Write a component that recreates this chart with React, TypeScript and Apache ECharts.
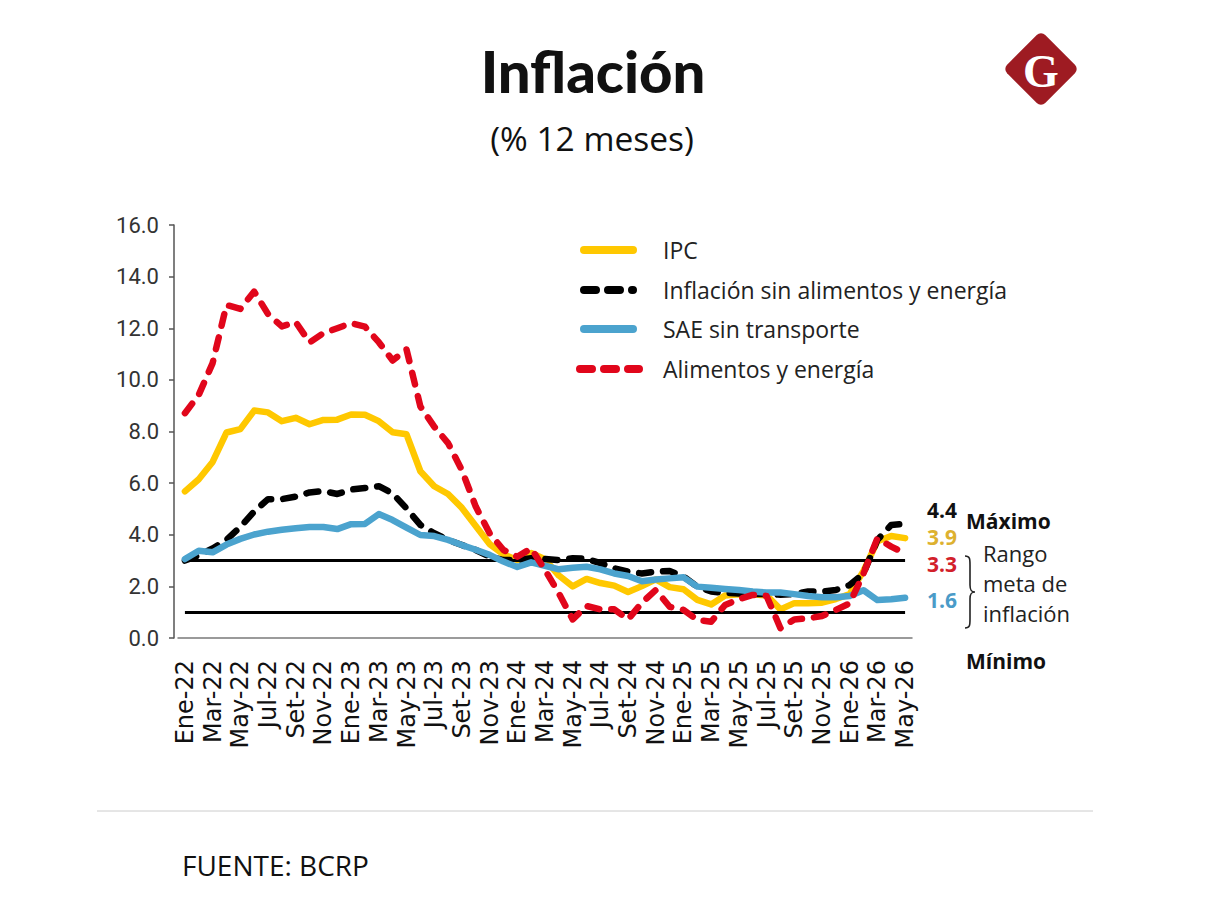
import React, { useEffect, useRef } from 'react';
import * as echarts from 'echarts';

const categories = [
  'Ene-22','Feb-22','Mar-22','Abr-22','May-22','Jun-22','Jul-22','Ago-22','Set-22','Oct-22','Nov-22','Dic-22',
  'Ene-23','Feb-23','Mar-23','Abr-23','May-23','Jun-23','Jul-23','Ago-23','Set-23','Oct-23','Nov-23','Dic-23',
  'Ene-24','Feb-24','Mar-24','Abr-24','May-24','Jun-24','Jul-24','Ago-24','Set-24','Oct-24','Nov-24','Dic-24',
  'Ene-25','Feb-25','Mar-25','Abr-25','May-25','Jun-25','Jul-25','Ago-25','Set-25','Oct-25','Nov-25','Dic-25',
  'Ene-26','Feb-26','Mar-26','Abr-26','May-26',
];

const ipc = [
  5.68, 6.15, 6.82, 7.96, 8.09, 8.81, 8.74, 8.40, 8.53, 8.28, 8.45, 8.46,
  8.66, 8.65, 8.40, 7.97, 7.89, 6.46, 5.88, 5.58, 5.04, 4.34, 3.64, 3.24,
  3.02, 3.29, 3.05, 2.42, 2.00, 2.29, 2.13, 2.03, 1.78, 2.01, 2.27, 1.97,
  1.89, 1.48, 1.30, 1.65, 1.69, 1.69, 1.65, 1.11, 1.35, 1.35, 1.37, 1.51,
  1.70, 2.60, 3.75, 3.95, 3.87,
];

const sinAlimentosEnergia = [
  3.00, 3.20, 3.47, 3.80, 4.30, 4.90, 5.38, 5.38, 5.48, 5.64, 5.69, 5.58,
  5.75, 5.81, 5.88, 5.60, 5.02, 4.38, 4.06, 3.80, 3.60, 3.41, 3.15, 3.02,
  3.02, 3.09, 3.06, 3.02, 3.09, 3.07, 2.90, 2.70, 2.57, 2.50, 2.57, 2.60,
  2.38, 1.99, 1.80, 1.75, 1.72, 1.70, 1.70, 1.68, 1.70, 1.80, 1.80, 1.86,
  2.05, 2.50, 3.80, 4.38, 4.42,
];

const saeSinTransporte = [
  3.06, 3.38, 3.32, 3.62, 3.84, 4.01, 4.12, 4.19, 4.25, 4.30, 4.30, 4.22,
  4.41, 4.42, 4.80, 4.57, 4.28, 3.99, 3.95, 3.80, 3.60, 3.42, 3.22, 2.96,
  2.75, 2.93, 2.80, 2.66, 2.72, 2.76, 2.66, 2.50, 2.40, 2.20, 2.27, 2.31,
  2.35, 1.99, 1.95, 1.90, 1.86, 1.80, 1.76, 1.76, 1.70, 1.63, 1.58, 1.58,
  1.63, 1.85, 1.47, 1.50, 1.56,
];

const alimentosEnergia = [
  8.71, 9.42, 10.65, 12.90, 12.75, 13.42, 12.55, 12.07, 12.24, 11.45, 11.81, 12.00,
  12.20, 12.06, 11.46, 10.75, 11.18, 8.97, 8.19, 7.55, 6.50, 5.09, 4.06, 3.41,
  3.15, 3.47, 2.64, 1.73, 0.72, 1.24, 1.11, 1.11, 0.72, 1.37, 1.86, 1.21,
  1.09, 0.70, 0.63, 1.28, 1.50, 1.67, 1.63, 0.38, 0.72, 0.76, 0.85, 1.09,
  1.34, 2.50, 3.86, 3.54, 3.28,
];

const targetRange = [1, 3];

const seriesNames = [
  'IPC',
  'Inflación sin alimentos y energía',
  'SAE sin transporte',
  'Alimentos y energía',
];
const seriesColors = ['#FFC800', '#000000', '#4BA3CE', '#E1061B'];
const seriesDashed = [false, true, false, true];
const seriesData = [ipc, sinAlimentosEnergia, saeSinTransporte, alimentosEnergia];

const endLabels = [
  { text: '4.4', color: '#111111', y: 510, x: 957 },
  { text: '3.9', color: '#DDB12F', y: 537, x: 957 },
  { text: '3.3', color: '#D2202A', y: 564, x: 957 },
  { text: '1.6', color: '#4A9BC8', y: 600, x: 957 },
];

echarts.graphic.registerShape(
  'brace',
  echarts.graphic.extendPath(
    'M0,0 C5,0 5,3 5,9 L5,29 C5,34 6,36 10,36 C6,36 5,38 5,43 L5,63 C5,69 5,72 0,72',
    {}
  )
);

const FONT = '"Open Sans", Roboto, sans-serif';

export default function App() {
  const ref = useRef<HTMLDivElement>(null);

  useEffect(() => {
    if (!ref.current) return;
    const chart = echarts.init(ref.current, null, { renderer: 'svg' });

    const series: any[] = seriesNames.map((name, i) => ({
      name,
      type: 'line',
      data: seriesData[i],
      showSymbol: false,
      symbol: 'none',
      silent: true,
      z: 3 + i,
      lineStyle: {
        color: seriesColors[i],
        width: 6.5,
        type: seriesDashed[i] ? [12, 12] : 'solid',
        cap: 'round',
        join: 'round',
      },
    }));

    series.unshift({
      name: 'rango',
      type: 'line',
      data: [],
      silent: true,
      z: 2,
      markLine: {
        silent: true,
        symbol: ['none', 'none'],
        label: { show: false },
        lineStyle: { color: '#000', width: 3, type: 'solid' },
        data: targetRange.map((v) => [
          { coord: [categories[0], v] },
          { coord: [categories[categories.length - 1], v] },
        ]),
      },
    });

    const legendRows = [250, 290, 329, 369];
    const legendGraphics: any[] = [];
    seriesNames.forEach((name, i) => {
      const x1 = i === 3 ? 580 : 584;
      const x2 = i === 3 ? 639 : 633;
      legendGraphics.push({
        type: 'line',
        shape: { x1, y1: legendRows[i], x2, y2: legendRows[i] },
        style: {
          stroke: seriesColors[i],
          lineWidth: 8,
          lineCap: 'round',
          lineDash: seriesDashed[i] ? [12, 12] : null,
        },
      });
      legendGraphics.push({
        type: 'text',
        x: 663,
        y: legendRows[i],
        style: {
          text: name,
          fill: '#222',
          fontSize: 23,
          fontFamily: FONT,
          textAlign: 'left',
          textVerticalAlign: 'middle',
        },
      });
    });

    const rightGraphics: any[] = endLabels.map((l) => ({
      type: 'text',
      x: l.x,
      y: l.y,
      style: {
        text: l.text,
        fill: l.color,
        fontSize: 21,
        lineHeight: 21,
        fontWeight: 'bold',
        fontFamily: FONT,
        textAlign: 'right',
        textVerticalAlign: 'middle',
      },
    }));
    rightGraphics.push(
      {
        type: 'text',
        x: 966,
        y: 521,
        style: { text: 'Máximo', fill: '#111', fontSize: 21, lineHeight: 21, fontWeight: 'bold', fontFamily: FONT, textAlign: 'left', textVerticalAlign: 'middle' },
      },
      {
        type: 'text',
        x: 966,
        y: 661,
        style: { text: 'Mínimo', fill: '#111', fontSize: 21, fontWeight: 'bold', fontFamily: FONT, textAlign: 'left', textVerticalAlign: 'middle' },
      },
      ...['Rango', 'meta de', 'inflación'].map((t, i) => ({
        type: 'text',
        x: 983,
        y: 553 + i * 30,
        style: { text: t, fill: '#222', fontSize: 22, lineHeight: 24, fontFamily: FONT, textAlign: 'left', textVerticalAlign: 'middle' },
      })),
      {
        type: 'brace',
        x: 965,
        y: 556,
        style: { stroke: '#222', fill: 'none', lineWidth: 1.6 },
      }
    );

    const option: any = {
      animation: false,
      backgroundColor: '#ffffff',
      grid: { left: 178, top: 225, width: 734, height: 413, containLabel: false },
      xAxis: {
        type: 'category',
        data: categories,
        boundaryGap: true,
        axisLine: { show: true, lineStyle: { color: '#7a7a7a', width: 1.5 } },
        axisTick: { show: false },
        axisLabel: {
          rotate: 90,
          interval: 1,
          fontFamily: '"DejaVu Sans", sans-serif',
          fontSize: 24,
          color: '#111',
          margin: 22,
        },
        splitLine: { show: false },
      },
      yAxis: {
        type: 'value',
        min: 0,
        max: 16,
        interval: 2,
        offset: 4,
        axisLine: { show: true, lineStyle: { color: '#555', width: 1.5 } },
        axisTick: { show: true, inside: false, length: 5, lineStyle: { color: '#555', width: 1.5 } },
        axisLabel: {
          formatter: (v: number) => v.toFixed(1),
          fontFamily: 'Roboto, sans-serif',
          fontSize: 22,
          color: '#333',
          margin: 15,
        },
        splitLine: { show: false },
      },
      series,
      graphic: [
        {
          type: 'text',
          x: 593,
          y: 70,
          style: {
            text: 'Inflación',
            fill: '#111',
            fontSize: 58,
            fontWeight: 900,
            fontFamily: 'Lato, Roboto, sans-serif',
            textAlign: 'center',
            textVerticalAlign: 'middle',
          },
        },
        {
          type: 'text',
          x: 592,
          y: 138,
          style: {
            text: '(% 12 meses)',
            fill: '#111',
            fontSize: 33.5,
            fontFamily: FONT,
            textAlign: 'center',
            textVerticalAlign: 'middle',
          },
        },
        {
          type: 'rect',
          x: 1041,
          y: 69,
          rotation: Math.PI / 4,
          shape: { x: -27, y: -27, width: 54, height: 54, r: 6 },
          style: { fill: '#9E1B22' },
        },
        {
          type: 'text',
          x: 1041,
          y: 71,
          style: {
            text: 'G',
            fill: '#ffffff',
            fontSize: 46,
            fontWeight: 'bold',
            fontFamily: '"Liberation Serif", "DejaVu Serif", serif',
            textAlign: 'center',
            textVerticalAlign: 'middle',
          },
        },
        ...legendGraphics,
        ...rightGraphics,
        {
          type: 'line',
          shape: { x1: 97, y1: 811, x2: 1093, y2: 811 },
          style: { stroke: '#cccccc', lineWidth: 1 },
        },
        {
          type: 'text',
          x: 182,
          y: 865,
          style: {
            text: 'FUENTE: BCRP',
            fill: '#111',
            fontSize: 28,
            fontFamily: FONT,
            textAlign: 'left',
            textVerticalAlign: 'middle',
          },
        },
      ],
    };

    chart.setOption(option);
    return () => chart.dispose();
  }, []);

  return (
    <div
      ref={ref}
      style={{ position: 'absolute', left: 0, top: 0, width: 1216, height: 920, background: '#fff' }}
    />
  );
}
